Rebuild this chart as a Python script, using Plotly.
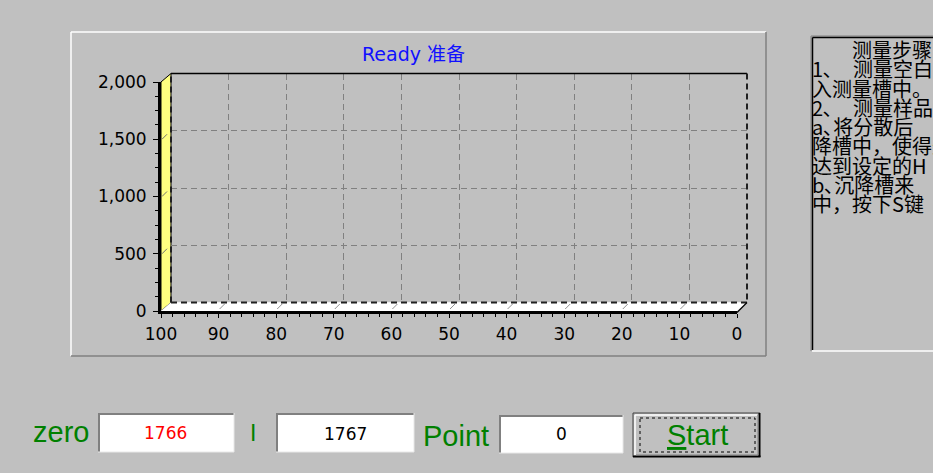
import plotly.graph_objects as go

# ---------------- data ----------------
x_ticks = [100, 90, 80, 70, 60, 50, 40, 30, 20, 10, 0]
x_tick_labels = ["100", "90", "80", "70", "60", "50", "40", "30", "20", "10", "0"]
y_ticks = [0, 500, 1000, 1500, 2000]
y_tick_labels = ["0", "500", "1,000", "1,500", "2,000"]
x_range = [100, 0]
y_range = [0, 2000]
series_x = []          # no measurement points yet ("Ready")
series_y = []
chart_title = "Ready 准备"
zero_value = "1766"
i_value = "1767"
point_value = "0"
steps_text = [
    "\u3000\u3000测量步骤",
    "1､\u3000测量空白：将蒸馏水放",
    "入测量槽中。",
    "2､\u3000测量样品：",
    "a､将分散后",
    "降槽中，使得悬浮液液面",
    "达到设定的H",
    "b､沉降槽来",
    "中，按下S键",
]

# ---------------- geometry helpers ----------------
W, H = 933, 473
BG = "#c0c0c0"


def X(p):
    return p / W


def Y(p):
    return 1 - p / H


FX0, FX1 = 161, 737     # front axis px (x=100 .. x=0)
FY0, FY1 = 311, 82      # front axis px (y=0 .. y=2000)
DX, DY = 10, 8.5        # 3D depth offset

TICKFONT = dict(family="DejaVu Sans, Liberation Sans, sans-serif", size=17, color="black")

fig = go.Figure()
fig.add_trace(go.Scatter(x=series_x, y=series_y, mode="lines", xaxis="x", yaxis="y",
                         line=dict(color="red"), showlegend=False))
fig.add_trace(go.Scatter(x=series_x, y=series_y, mode="lines", xaxis="x2", yaxis="y2",
                         showlegend=False, hoverinfo="skip"))

shapes = []


def line(x0, y0, x1, y1, color, width=1, dash=None, layer="above"):
    d = dict(type="line", xref="paper", yref="paper", x0=X(x0), y0=Y(y0), x1=X(x1), y1=Y(y1),
             line=dict(color=color, width=width), layer=layer)
    if dash:
        d["line"]["dash"] = dash
    shapes.append(d)


def rect(x0, y0, x1, y1, fill, color=None, width=0, dash=None, layer="above"):
    d = dict(type="rect", xref="paper", yref="paper", x0=X(x0), y0=Y(y0), x1=X(x1), y1=Y(y1),
             fillcolor=fill, line=dict(color=color or fill, width=width), layer=layer)
    if dash:
        d["line"]["dash"] = dash
    shapes.append(d)


def poly(pts, fill, color="black", width=1, layer="below"):
    path = "M " + " L ".join(f"{X(a):.5f},{Y(b):.5f}" for a, b in pts) + " Z"
    shapes.append(dict(type="path", xref="paper", yref="paper", path=path, fillcolor=fill,
                       line=dict(color=color, width=width), layer=layer))


# chart panel frame
line(71, 32, 766, 32, "white", 1.5)
line(71, 32, 71, 356, "white", 1.5)
line(71, 356, 766, 356, "#808080", 1.5)
line(766, 32, 766, 356, "#808080", 1.5)

# left wall (yellow) and floor (white)
poly([(FX0, FY1), (FX0 + DX, FY1 - DY), (FX0 + DX, FY0 - DY), (FX0, FY0)], "#ffff80", "black", 1)
poly([(FX0, FY0), (FX0 + DX, FY0 - DY), (FX1 + DX, FY0 - DY), (FX1, FY0)], "white", "white", 0.5)

# back wall border
bw = dict(xref="x2 domain", yref="y2 domain", layer="above")
shapes.append(dict(type="line", x0=0, y0=1, x1=1, y1=1, line=dict(color="black", width=1.5), **bw))
for (a0, b0, a1, b1) in [(1, 1, 1, 0), (0, 0, 1, 0), (0, 0, 0, 1)]:
    shapes.append(dict(type="line", x0=a0, y0=b0, x1=a1, y1=b1,
                       line=dict(color="#202020", width=2, dash="6px,4px"), **bw))
# right floor diagonal
line(FX1, FY0 + 1.5, FX1 + DX, FY0 - DY, "black", 1.2)

# slanted 3D tick marks
for v in y_ticks[1:]:
    shapes.append(dict(type="line", xref="x", yref="y", xsizemode="pixel", ysizemode="pixel",
                       xanchor=x_range[0], yanchor=v, x0=1, x1=6, y0=0, y1=5,
                       line=dict(color="#707070", width=1), layer="above"))
for v in x_ticks[1:-1]:
    shapes.append(dict(type="line", xref="x", yref="y", xsizemode="pixel", ysizemode="pixel",
                       xanchor=v, yanchor=y_range[0], x0=1, x1=6, y0=2, y1=7,
                       line=dict(color="#909090", width=1), layer="above"))

# bottom text boxes (sunken)
for (a0, b0, a1, b1) in [(98, 413, 234, 452), (276, 413, 414, 452), (499, 415, 623, 453)]:
    rect(a0, b0, a1, b1, "white")
    line(a0, b0 + 1, a1, b0 + 1, "#808080", 2)
    line(a0 + 1, b0, a0 + 1, b1, "#808080", 2)
    line(a0, b1, a1, b1, "#e8e8e8", 1)
    line(a1, b0, a1, b1, "#e8e8e8", 1)

# Start button
rect(633, 413, 760, 457, BG)
line(633, 413, 760, 413, "#404040", 1)
line(633, 413, 633, 457, "#404040", 1)
line(635, 415, 757, 415, "white", 1.5)
line(635, 415, 635, 455, "white", 1.5)
line(633, 456.5, 760.5, 456.5, "black", 2)
line(759.5, 413, 759.5, 457, "black", 2)
line(636, 455, 758, 455, "#808080", 1)
line(758, 415, 758, 455, "#808080", 1)
rect(640, 418, 755, 452, "rgba(0,0,0,0)", "black", 1, dash="dot")

# right instructions panel
rect(812, 37, 960, 350, BG)
line(811, 36, 960, 36, "#808080", 1)
line(811, 36, 811, 351, "#808080", 1)
line(812.5, 37.5, 960, 37.5, "black", 1.5)
line(812.5, 37.5, 812.5, 350, "black", 1.5)
line(812, 351, 960, 351, "white", 1.5)

annotations = []


def text(t, x, y, size, color, family="Liberation Sans, Arial, sans-serif", xanchor="center"):
    annotations.append(dict(text=t, x=X(x), y=Y(y), xref="paper", yref="paper", showarrow=False,
                            xanchor=xanchor, yanchor="middle",
                            font=dict(family=family, size=size, color=color)))


GREEN = "#008000"
text(chart_title, 413, 54, 19, "#1010ff", "DejaVu Sans, Noto Sans CJK SC, sans-serif")
text("zero", 61, 432, 29, GREEN)
text("I", 253, 433, 23, GREEN)
text("Point", 456, 436, 29, GREEN)
text("<u>S</u>tart", 697, 435, 29, GREEN)
text(zero_value, 165, 433, 17, "red", "DejaVu Sans, sans-serif")
text(i_value, 345, 434, 17, "black", "DejaVu Sans, sans-serif")
text(point_value, 561, 434, 17, "black", "DejaVu Sans, sans-serif")

for i, s in enumerate(steps_text):
    text(s, 810, 49.5 + i * 19.3, 20, "black", "Noto Sans CJK SC, sans-serif", xanchor="left")

fig.update_layout(
    width=W, height=H, autosize=False,
    margin=dict(l=0, r=0, t=0, b=0, pad=0, autoexpand=False),
    paper_bgcolor=BG, plot_bgcolor="rgba(0,0,0,0)",
    showlegend=False,
    shapes=shapes, annotations=annotations,
    xaxis=dict(domain=[X(FX0), X(FX1)], range=x_range, anchor="y",
               tickmode="array", tickvals=x_ticks, ticktext=x_tick_labels,
               ticks="outside", ticklen=4, tickwidth=1, tickcolor="black",
               showline=True, linewidth=3, linecolor="black",
               showgrid=False, zeroline=False, tickfont=TICKFONT, ticklabelstandoff=2,
               minor=dict(dtick=2, tick0=0, ticks="outside", ticklen=3, tickcolor="black", showgrid=False),
               fixedrange=True),
    yaxis=dict(domain=[Y(FY0), Y(FY1)], range=y_range, anchor="x",
               tickmode="array", tickvals=y_ticks, ticktext=y_tick_labels,
               ticks="outside", ticklen=5, tickwidth=1, tickcolor="black",
               showline=True, linewidth=3, linecolor="black",
               showgrid=False, zeroline=False, tickfont=TICKFONT, ticklabelstandoff=3,
               minor=dict(dtick=125, tick0=0, ticks="outside", ticklen=3, tickcolor="black", showgrid=False),
               fixedrange=True),
    xaxis2=dict(domain=[X(FX0 + DX), X(FX1 + DX)], range=x_range, anchor="y2",
                tickmode="array", tickvals=x_ticks[1:-1], showticklabels=False, ticks="",
                showgrid=True, gridcolor="#808080", gridwidth=1, griddash="6px,4px",
                showline=False, zeroline=False, fixedrange=True),
    yaxis2=dict(domain=[Y(FY0 - DY), Y(FY1 - DY)], range=y_range, anchor="x2",
                tickmode="array", tickvals=y_ticks[1:-1], showticklabels=False, ticks="",
                showgrid=True, gridcolor="#808080", gridwidth=1, griddash="6px,4px",
                showline=False, zeroline=False, fixedrange=True),
)

fig.write_html(
    "out.html",
    config=dict(displayModeBar=False),
    post_script="document.body.style.margin='0';document.body.style.background='#c0c0c0';"
                "document.body.style.overflow='hidden';",
)
